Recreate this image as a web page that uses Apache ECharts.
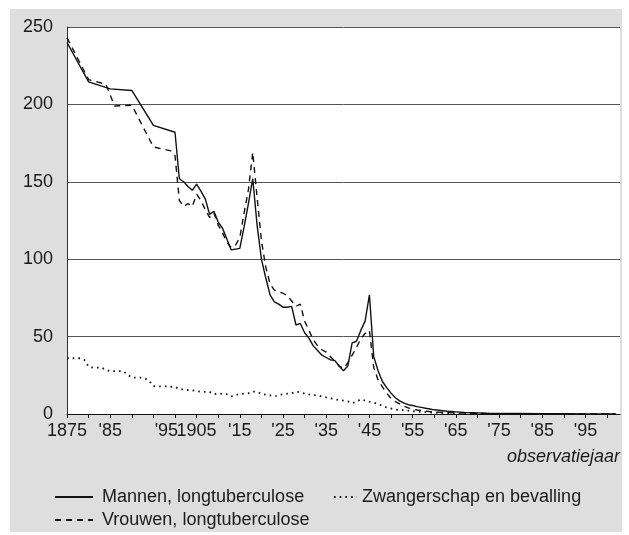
<!DOCTYPE html>
<html>
<head>
<meta charset="utf-8">
<script src="https://cdn.jsdelivr.net/npm/echarts@6/dist/echarts.min.js"></script>
<style>
  html, body { margin: 0; padding: 0; background: #fff; }
  #chart { width: 629px; height: 535px; }
</style>
</head>
<body>
<div id="chart"></div>
<script>
// sterfte per 100.000
const menYears = [1875, 1880, 1885, 1890, 1895, 1900, 1901, 1902, 1903, 1904, 1905, 1906, 1907, 1908, 1909, 1910,
  1911, 1912, 1913, 1914, 1915, 1916, 1917, 1918, 1919, 1920, 1921, 1922, 1923, 1924, 1925, 1926, 1927, 1928, 1929,
  1930, 1931, 1932, 1933, 1934, 1935, 1936, 1937, 1938, 1939, 1940, 1941, 1942, 1943, 1944, 1945, 1946, 1947, 1948,
  1949, 1950, 1951, 1952, 1953, 1954, 1955, 1956, 1957, 1958, 1959, 1960, 1961, 1962, 1963, 1964, 1965, 1966, 1967,
  1968, 1969, 1970, 1972, 1975, 1980, 1985, 1990, 1995, 2002]
const menValues = [240, 214.5, 210, 209, 186.5, 182, 152, 150, 147, 144.5, 148.5, 144, 139, 129, 131, 124,
  120, 113, 106, 106.5, 107, 121, 136, 152, 122, 100, 88, 77, 72.5, 71, 69, 69, 69.5, 57.5, 58.5,
  52.5, 49, 44, 41, 38, 36.5, 35, 34.5, 31, 28, 31, 46, 47, 54, 60, 77, 37, 28, 21,
  17, 13.5, 10.5, 8.5, 7, 6, 5.5, 4.8, 4.3, 3.7, 3.2, 2.7, 2.4, 2.1, 1.8, 1.6, 1.4, 1.2, 1.0,
  0.9, 0.8, 0.7, 0.5, 0.4, 0.3, 0.2, 0.15, 0.1, 0.1]

const womenYears = [1875, 1880, 1884, 1886, 1890, 1895, 1899, 1900, 1901, 1902, 1903, 1904, 1905, 1906, 1907, 1908,
  1909, 1910, 1911, 1912, 1913, 1914, 1915, 1916, 1917, 1918, 1919, 1920, 1921, 1922, 1923, 1924, 1925, 1926, 1927,
  1928, 1929, 1930, 1931, 1932, 1933, 1934, 1935, 1936, 1937, 1938, 1939, 1940, 1941, 1942, 1943, 1944, 1945, 1946,
  1947, 1948, 1949, 1950, 1951, 1952, 1953, 1954, 1955, 1956, 1957, 1958, 1959, 1960, 1962, 1965, 1970, 1975, 1980,
  1990, 2002]
const womenValues = [243, 216, 213, 199, 199.5, 172.5, 170, 167, 138, 134, 136, 134, 142, 138, 132, 127,
  130, 122, 117, 111, 107.5, 109, 114, 130, 145, 169, 140, 112, 95, 84, 80, 79, 78, 76.5, 73,
  69.5, 71, 60, 54, 48, 44, 41.5, 40, 37, 34, 31, 29.5, 33, 38, 43, 48.5, 52, 54, 30,
  22, 17.5, 13.5, 10, 8, 6.5, 5, 4, 3.2, 2.6, 2.2, 1.8, 1.5, 1.3, 1, 0.7, 0.4, 0.2, 0.15,
  0.1, 0.1]

const zwYears = [1875, 1876, 1877, 1878, 1879, 1880, 1881, 1882, 1883, 1884, 1885, 1886, 1887, 1888, 1889, 1890,
  1891, 1892, 1893, 1894, 1895, 1896, 1897, 1898, 1899, 1900, 1901, 1902, 1903, 1904, 1905, 1906, 1907, 1908, 1909,
  1910, 1911, 1912, 1913, 1914, 1915, 1916, 1917, 1918, 1919, 1920, 1921, 1922, 1923, 1924, 1925, 1926, 1927, 1928,
  1929, 1930, 1931, 1932, 1933, 1934, 1935, 1936, 1937, 1938, 1939, 1940, 1941, 1942, 1943, 1944, 1945, 1946, 1947,
  1948, 1949, 1950, 1951, 1952, 1953, 1954, 1955, 1956, 1957, 1958, 1959, 1960, 1962, 1965, 1968, 1970, 1975, 1980,
  1990, 2002]
const zwValues = [36, 36, 36, 36, 35, 30.5, 30, 30, 30, 28.5, 27.7, 27.7, 27.7, 27.7, 25.5, 23.5,
  23.5, 23.5, 23, 21.5, 18, 17.8, 17.8, 17.8, 17.6, 17.6, 16, 15.9, 15.5, 15.3, 14.8, 14.3, 14.3, 14.3, 12.8,
  13.3, 13, 12.8, 11.3, 12.2, 12.9, 13.2, 13.4, 14.5, 14.4, 13, 12.5, 12, 11.3, 12.2, 12.8, 13.1, 13.4, 14.4,
  14, 13.2, 12.7, 12.2, 12.1, 11.3, 10.7, 10.2, 9.5, 9, 8.6, 8.2, 7, 8, 9.5, 8.7, 8, 7.4, 6.5,
  5.3, 4.2, 3.6, 2.8, 2.6, 2.4, 2.2, 1.8, 1.6, 1.4, 1.2, 1.0, 0.9, 0.7, 0.5, 0.3, 0.2, 0.1, 0.1,
  0.1, 0.1]

const tickYears = []
for (let y = 1875; y <= 2000; y += 5) tickYears.push(y)
const labelYears = [1875, 1885, 1895, 1905, 1915, 1925, 1935, 1945, 1955, 1965, 1975, 1985, 1995]

const pairs = (xs, ys) => xs.map((x, i) => [x, ys[i]])

const font = 'Liberation Sans, Arial, sans-serif'
const ink = '#1a1a1a'

// one legend per item, so each one sits where it does in the figure
const legendItem = (name, left, top, width, gap) => ({
  left,
  top,
  padding: 0,
  itemWidth: width,
  itemHeight: 12,
  itemStyle: { opacity: 0 },
  data: [name],
  textStyle: { fontFamily: font, fontSize: 18, color: ink, padding: [0, 0, 0, gap] },
})

const chart = echarts.init(document.getElementById('chart'), null, { renderer: 'canvas' })

chart.setOption({
  backgroundColor: '#fff',
  animation: false,
  textStyle: { fontFamily: font, color: ink },
  graphic: [
    {
      type: 'rect',
      z: -100,
      silent: true,
      shape: { x: 10, y: 9, width: 612, height: 523 },
      style: { fill: '#dedede' },
    },
  ],
  title: {
    text: 'observatiejaar',
    right: 9,
    top: 448,
    padding: 0,
    textStyle: { fontFamily: font, fontSize: 18, fontStyle: 'italic', fontWeight: 'normal', color: ink },
  },
  grid: {
    left: 67,
    right: 9,
    top: 27,
    bottom: 121,
    show: true,
    backgroundColor: '#fff',
    borderWidth: 0,
  },
  legend: [
    legendItem('Mannen, longtuberculose', 54, 488, 38, 4),
    legendItem('Vrouwen, longtuberculose', 54, 511, 38, 4),
    legendItem('Zwangerschap en bevalling', 333, 488, 23, 0),
  ],
  xAxis: {
    type: 'value',
    min: 1875,
    max: 2003,
    interval: 5,
    axisLine: { show: true, lineStyle: { color: '#111', width: 1 } },
    axisTick: { show: true, length: 4, customValues: tickYears, lineStyle: { color: '#111' } },
    splitLine: { show: false },
    axisLabel: {
      customValues: labelYears,
      margin: 8,
      fontFamily: font,
      fontSize: 18,
      color: ink,
      formatter: (v) => {
        if (v === 1875 || v === 1905) return String(v)
        if (v === 1895) return "{s|'95}"
        return "'" + String(v).slice(2)
      },
      rich: {
        s: { fontFamily: font, fontSize: 18, color: ink, padding: [0, 0, 0, 26] },
      },
    },
  },
  yAxis: {
    type: 'value',
    min: 0,
    max: 250,
    interval: 50,
    axisLine: { show: true, lineStyle: { color: '#333', width: 1 } },
    axisTick: { show: false },
    splitLine: { show: true, lineStyle: { color: '#555', width: 1 } },
    axisLabel: { margin: 14, fontFamily: font, fontSize: 18, color: ink },
  },
  series: [
    {
      name: 'Mannen, longtuberculose',
      type: 'line',
      symbol: 'none',
      data: pairs(menYears, menValues),
      lineStyle: { color: '#111', width: 1.4 },
      itemStyle: { color: '#111' },
      z: 3,
    },
    {
      name: 'Vrouwen, longtuberculose',
      type: 'line',
      symbol: 'none',
      data: pairs(womenYears, womenValues),
      lineStyle: { color: '#111', width: 1.4, type: [6, 5] },
      itemStyle: { color: '#111' },
      z: 2,
    },
    {
      name: 'Zwangerschap en bevalling',
      type: 'line',
      symbol: 'none',
      data: pairs(zwYears, zwValues),
      lineStyle: { color: '#111', width: 1.8, type: [1.6, 4.1] },
      itemStyle: { color: '#111' },
      z: 1,
    },
  ],
})
</script>
</body>
</html>
